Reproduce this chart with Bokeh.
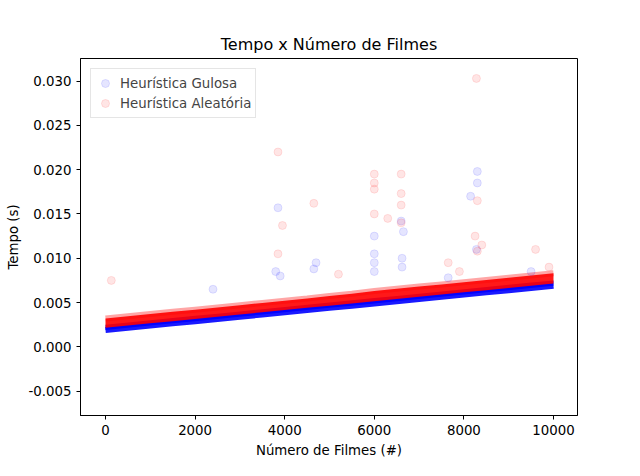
from bokeh.plotting import figure
from bokeh.models import FixedTicker, NumeralTickFormatter, Range1d
from bokeh.embed import file_html
from bokeh.resources import INLINE

# band of the dense points, sampled every 500 films
band_x = [0, 500, 1000, 1500, 2000, 2500, 3000, 3500, 4000, 4500, 5000,
          5500, 6000, 6500, 7000, 7500, 8000, 8500, 9000, 9500, 10000]
blue_lo = [.00190, .00215, .00240, .00265, .00290, .00315, .00340, .00365, .00390, .00415, .00440,
           .00465, .00490, .00515, .00540, .00565, .00590, .00615, .00640, .00665, .00690]
blue_hi = [.00250, .00275, .00300, .00325, .00350, .00375, .00400, .00425, .00450, .00475, .00500,
           .00525, .00550, .00575, .00600, .00625, .00650, .00675, .00700, .00725, .00750]
red_lo = [.00215, .00240, .00265, .00290, .00315, .00340, .00365, .00390, .00415, .00440, .00465,
          .00490, .00515, .00540, .00565, .00590, .00615, .00640, .00665, .00690, .00715]
red_hi = [.00320, .00345, .00370, .00395, .00420, .00445, .00470, .00495, .00520, .00545, .00575,
          .00600, .00630, .00655, .00680, .00705, .00730, .00755, .00780, .00805, .00830]

# scattered outliers
blue_out_x = [3850, 8300, 8300, 8150, 6000, 6600, 4700, 3800, 2400, 6000, 6650, 6000, 9500,
              3900, 6620, 6620, 6000, 8280, 4650, 7650]
blue_out_y = [.0157, .0198, .0185, .0170, .0125, .0142, .0095, .0085, .0065, .0105, .0130, .0085, .0085,
              .0080, .0100, .0090, .0095, .0110, .0088, .0078]
red_out_x = [8280, 3850, 6000, 6000, 6000, 6600, 6600, 6600, 4650, 3950, 8300, 6300, 130, 9600,
             7650, 8250, 8400, 6000, 6600, 3850, 8300, 7900, 9900, 5200]
red_out_y = [.0303, .0220, .0195, .0185, .0178, .0195, .0173, .0160, .0162, .0137, .0165, .0145, .0075, .0110,
             .0095, .0125, .0115, .0150, .0140, .0105, .0108, .0085, .0090, .0082]

p = figure(width=624, height=460, title="Tempo x Número de Filmes",
           output_backend="svg", toolbar_location=None,
           x_range=Range1d(-558, 10536), y_range=Range1d(-0.00775, 0.03255),
           min_border_left=80, min_border_right=47, min_border_top=58, min_border_bottom=38)
p.title.align = "center"
p.title.text_font = "DejaVu Sans"
p.title.text_font_size = "12pt"
p.title.text_font_style = "normal"
p.title.text_color = "black"

p.varea(x=band_x, y1=blue_lo, y2=blue_hi, fill_color="blue", fill_alpha=0.9)
p.line(band_x, blue_lo, line_width=6, color="blue", alpha=0.9)
p.varea(x=band_x, y1=red_lo, y2=red_hi, fill_color="red", fill_alpha=0.9)
p.line(band_x, red_hi, line_width=6, color="red", alpha=0.35)

p.scatter(blue_out_x, blue_out_y, size=8, color="blue", alpha=0.1, legend_label="Heurística Gulosa")
p.scatter(red_out_x, red_out_y, size=8, color="red", alpha=0.1, legend_label="Heurística Aleatória")

p.xaxis.ticker = FixedTicker(ticks=[0, 2000, 4000, 6000, 8000, 10000])
p.yaxis.ticker = FixedTicker(ticks=[-0.005, 0, 0.005, 0.01, 0.015, 0.02, 0.025, 0.03])
p.yaxis.formatter = NumeralTickFormatter(format="0.000")
p.xaxis.axis_label = "Número de Filmes (#)"
p.yaxis.axis_label = "Tempo (s)"
for ax in (p.xaxis, p.yaxis):
    ax.axis_label_text_font = "DejaVu Sans"
    ax.axis_label_text_font_style = "normal"
    ax.axis_label_text_font_size = "10pt"
    ax.axis_label_text_color = "black"
    ax.major_label_text_font = "DejaVu Sans"
    ax.major_label_text_font_size = "10pt"
    ax.major_label_text_color = "black"
    ax.minor_tick_line_color = None
    ax.major_tick_in = 0
    ax.major_tick_out = 4
    ax.axis_line_color = "black"
p.grid.grid_line_color = None
p.outline_line_color = "black"
p.outline_line_alpha = 1

p.legend.location = "top_left"
p.legend.label_text_font = "DejaVu Sans"
p.legend.label_text_font_size = "10pt"
p.legend.border_line_color = "#cccccc"
p.legend.spacing = 0
p.legend.padding = 4

open("out.html", "w").write(file_html(p, INLINE))
